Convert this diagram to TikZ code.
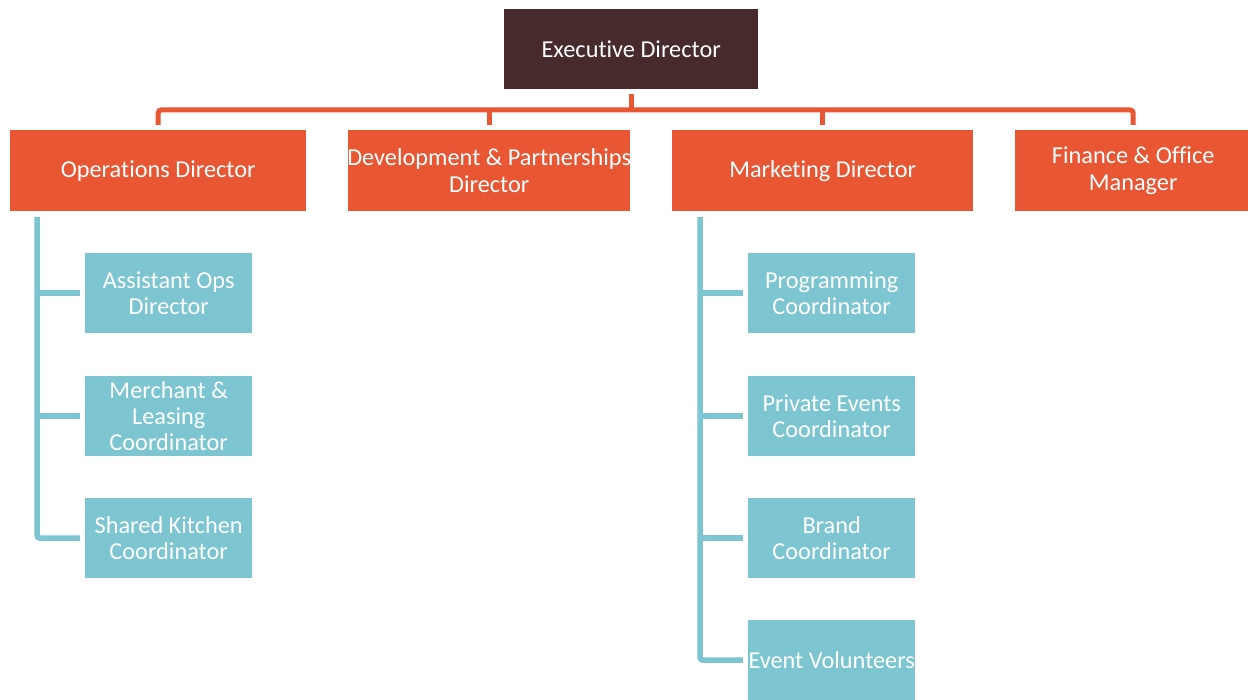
\documentclass[tikz,border=0pt]{standalone}
\usepackage{fontspec}
\setmainfont{Carlito}[Ligatures=NoCommon]
\usetikzlibrary{calc}
\definecolor{execcol}{HTML}{472A2B}
\definecolor{orng}{HTML}{E85634}
\definecolor{tealbox}{HTML}{7CC5D1}
\begin{document}
\begin{tikzpicture}[x=1pt,y=-1pt,
  font=\fontsize{24.3}{26.3}\selectfont,
  box/.style={rectangle, inner sep=0pt, text=white, align=center, anchor=north west},
  topbox/.style={box, fill=orng, minimum height=81pt},
  subbox/.style={box, fill=tealbox, minimum width=167pt, minimum height=80pt},
  oline/.style={draw=orng, line width=5pt, rounded corners=3pt},
  tline/.style={draw=tealbox, line width=5.5pt, rounded corners=3pt}]
\clip (0,0) rectangle (1248,700);
\fill[white] (0,0) rectangle (1248,700);

\node[box, fill=execcol, minimum width=254pt, minimum height=80pt] (exec) at (504,9) {Executive Director};

\node[topbox, minimum width=296pt] (ops) at (10,130) {Operations Director};
\node[topbox, minimum width=282pt] (dev) at (348,130) {\makebox[270pt]{Development \& Partnerships}\\Director};
\node[topbox, minimum width=301pt] (mkt) at (672,130) {Marketing Director};
\node[topbox, minimum width=236pt] (fin) at (1015,130) {Finance \& Office\\Manager};

\node[subbox] (aod) at (85,253) {Assistant Ops\\Director};
\node[subbox] (mlc) at (85,376) {Merchant \&\\Leasing\\Coordinator};
\node[subbox] (skc) at (85,498) {Shared Kitchen\\Coordinator};

\node[subbox] (pgc) at (748,253) {Programming\\Coordinator};
\node[subbox] (pec) at (748,376) {Private Events\\Coordinator};
\node[subbox] (brc) at (748,498) {Brand\\Coordinator};
\node[subbox] (evv) at (748,620) {Event Volunteers};

% orange connectors
\coordinate (bus) at (0,110);
\draw[oline] ($(ops.north)+(0,-5)$) -- (ops.north |- bus) -- (fin.north |- bus) -- ($(fin.north)+(0,-5)$);
\draw[oline] ($(exec.south)+(0,5)$) -- (exec.south |- bus);
\draw[oline] (dev.north |- bus) -- ($(dev.north)+(0,-5)$);
\draw[oline] (mkt.north |- bus) -- ($(mkt.north)+(0,-5)$);

% teal connectors
\coordinate (opsx) at (37,217);
\coordinate (mktx) at (700,217);
\draw[tline] (opsx) |- ($(skc.west)+(-5,0)$);
\draw[tline] (opsx |- aod.west) -- ($(aod.west)+(-5,0)$);
\draw[tline] (opsx |- mlc.west) -- ($(mlc.west)+(-5,0)$);
\draw[tline] (mktx) |- ($(evv.west)+(-5,0)$);
\draw[tline] (mktx |- pgc.west) -- ($(pgc.west)+(-5,0)$);
\draw[tline] (mktx |- pec.west) -- ($(pec.west)+(-5,0)$);
\draw[tline] (mktx |- brc.west) -- ($(brc.west)+(-5,0)$);
\end{tikzpicture}
\end{document}
